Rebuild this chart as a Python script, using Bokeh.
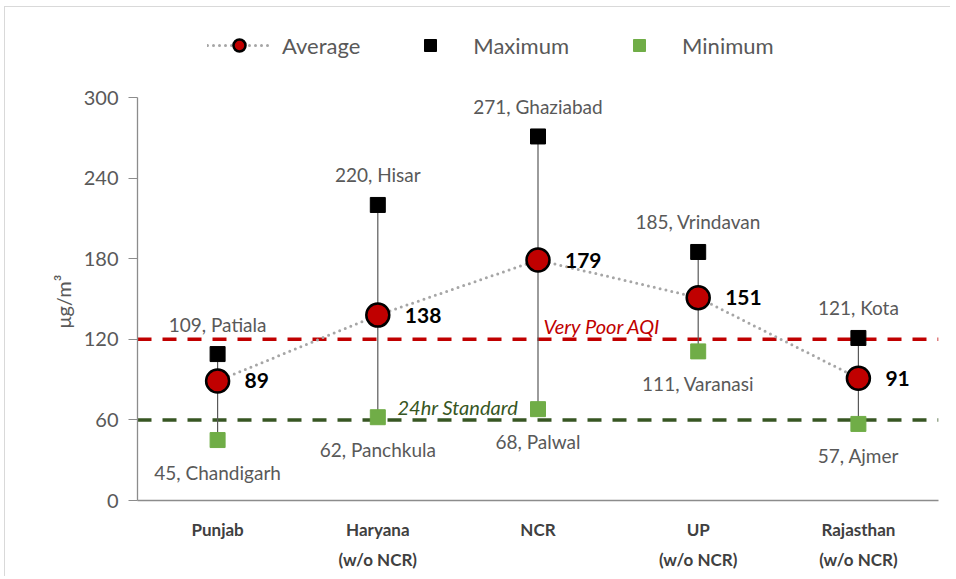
from bokeh.plotting import figure
from bokeh.models import (Range1d, FixedTicker, Span, Label, LabelSet, LinearAxis,
                          ColumnDataSource, Legend, LegendItem, Title)
from bokeh.core.properties import value
from bokeh.embed import file_html
from bokeh.resources import INLINE

# ---- data ----
region_names = ["Punjab", "Haryana", "NCR", "UP", "Rajasthan"]
region_notes = ["", "(w/o NCR)", "", "(w/o NCR)", "(w/o NCR)"]
avg_vals = [89, 138, 179, 151, 91]
max_vals = [109, 220, 271, 185, 121]
max_cities = ["Patiala", "Hisar", "Ghaziabad", "Vrindavan", "Kota"]
min_vals = [45, 62, 68, 111, 57]
min_cities = ["Chandigarh", "Panchkula", "Palwal", "Varanasi", "Ajmer"]
y_ticks = [0, 60, 120, 180, 240, 300]
very_poor_aqi = 120
standard_24hr = 60

FONT = "Lato"
xs = list(range(len(region_names)))
src = ColumnDataSource(dict(
    x=xs, avg=avg_vals, mx=max_vals, mn=min_vals,
    avg_lbl=[str(v) for v in avg_vals],
    max_lbl=[f"{v}, {c}" for v, c in zip(max_vals, max_cities)],
    min_lbl=[f"{v}, {c}" for v, c in zip(min_vals, min_cities)],
))

# frame spans page y 25..500; value 300 sits at y 97 (room for the legend above)
Y_TOP = 300 * 475 / 403

p = figure(width=946, height=570, x_range=Range1d(-0.5, len(region_names) - 0.5),
           y_range=Range1d(0, Y_TOP), output_backend="svg", toolbar_location=None,
           min_border_left=132, min_border_right=13, min_border_top=18,
           min_border_bottom=77)
p.outline_line_color = None
p.grid.visible = False
p.styles = {"margin-left": "4px", "margin-top": "6px",
            "border-left": "1px solid #D9D9D9", "border-top": "1px solid #D9D9D9"}

# y axis
p.yaxis.ticker = FixedTicker(ticks=y_ticks)
p.yaxis.bounds = (0, 300)
p.yaxis.minor_tick_line_color = None
p.yaxis.major_tick_in = 0
p.yaxis.major_tick_out = 9
p.yaxis.major_tick_line_color = "#8C8C8C"
p.yaxis.axis_line_color = "#8C8C8C"
p.yaxis.axis_line_width = 1.3
p.yaxis.major_label_text_font = FONT
p.yaxis.major_label_text_font_size = "20px"
p.yaxis.major_label_text_color = "#595959"
p.yaxis.major_label_standoff = 10

# unit label, placed beside the 0-300 part of the axis
p.add_layout(Title(text="μg/m³", align="left", offset=172, standoff=12,
                   text_font=FONT, text_font_size="20px", text_font_style="normal",
                   text_color="#595959"), "left")

# x axis (two rows of category text)
def style_x(ax, labels, standoff, line=True):
    ax.ticker = FixedTicker(ticks=xs)
    ax.major_label_overrides = {i: t for i, t in enumerate(labels)}
    ax.minor_tick_line_color = None
    ax.major_tick_line_color = None
    ax.major_tick_out = 0
    ax.major_tick_in = 0
    ax.axis_line_color = "#8C8C8C" if line else None
    ax.axis_line_width = 1.3
    ax.major_label_text_font = FONT
    ax.major_label_text_font_size = "17px"
    ax.major_label_text_font_style = "bold"
    ax.major_label_text_color = "#404040"
    ax.major_label_standoff = standoff

style_x(p.xaxis[0], region_names, 18)
note_axis = LinearAxis()
style_x(note_axis, region_notes, 6, line=False)
p.add_layout(note_axis, "below")

# reference lines
p.add_layout(Span(location=very_poor_aqi, dimension="width", line_color="#C00000",
                  line_width=3.5, line_dash="14 11", level="underlay"))
p.add_layout(Span(location=standard_24hr, dimension="width", line_color="#375623",
                  line_width=3.5, line_dash="14 11", level="underlay"))
p.add_layout(Label(x=2.034, y=very_poor_aqi, text="Very Poor AQI", text_font=FONT,
                   text_font_size="20px", text_font_style="italic",
                   text_color="#C00000", text_baseline="bottom", y_offset=1))
p.add_layout(Label(x=1.123, y=standard_24hr, text="24hr Standard", text_font=FONT,
                   text_font_size="20px", text_font_style="italic",
                   text_color="#375623", text_baseline="bottom", y_offset=1))

# range bars
p.segment(x0="x", y0="mn", x1="x", y1="mx", source=src, line_color="#595959", line_width=1.2)
line_r = p.line("x", "avg", source=src, line_color="#A6A6A6", line_width=3,
                line_dash="0 6", line_cap="round")
max_r = p.scatter("x", "mx", source=src, marker="square", size=15,
                  fill_color="black", line_color="black")
min_r = p.scatter("x", "mn", source=src, marker="square", size=15,
                  fill_color="#70AD47", line_color="#70AD47")
avg_r = p.scatter("x", "avg", source=src, marker="circle", size=23,
                  fill_color="#C00000", line_color="black", line_width=2.5)

# data labels
p.add_layout(LabelSet(x="x", y="avg", text="avg_lbl", source=src, x_offset=27,
                      text_baseline="middle", text_font=value(FONT), text_font_size="21px",
                      text_font_style="bold", text_color="black"))
p.add_layout(LabelSet(x="x", y="mx", text="max_lbl", source=src, y_offset=30,
                      text_align="center", text_baseline="middle", text_font=value(FONT),
                      text_font_size="19px", text_color="#595959"))
p.add_layout(LabelSet(x="x", y="mn", text="min_lbl", source=src, y_offset=-32,
                      text_align="center", text_baseline="middle", text_font=value(FONT),
                      text_font_size="19px", text_color="#595959"))

legend = Legend(items=[LegendItem(label="Average", renderers=[line_r, avg_r]),
                       LegendItem(label="Maximum", renderers=[max_r]),
                       LegendItem(label="Minimum", renderers=[min_r])],
                orientation="horizontal", location=(70, 440), glyph_width=64,
                glyph_height=30, label_standoff=11, spacing=38, padding=0, margin=0,
                border_line_color=None, background_fill_alpha=0,
                label_text_font=FONT, label_text_font_size="22px",
                label_text_color="#595959", label_height=30)
p.add_layout(legend)

open("out.html", "w").write(file_html(p, INLINE))
